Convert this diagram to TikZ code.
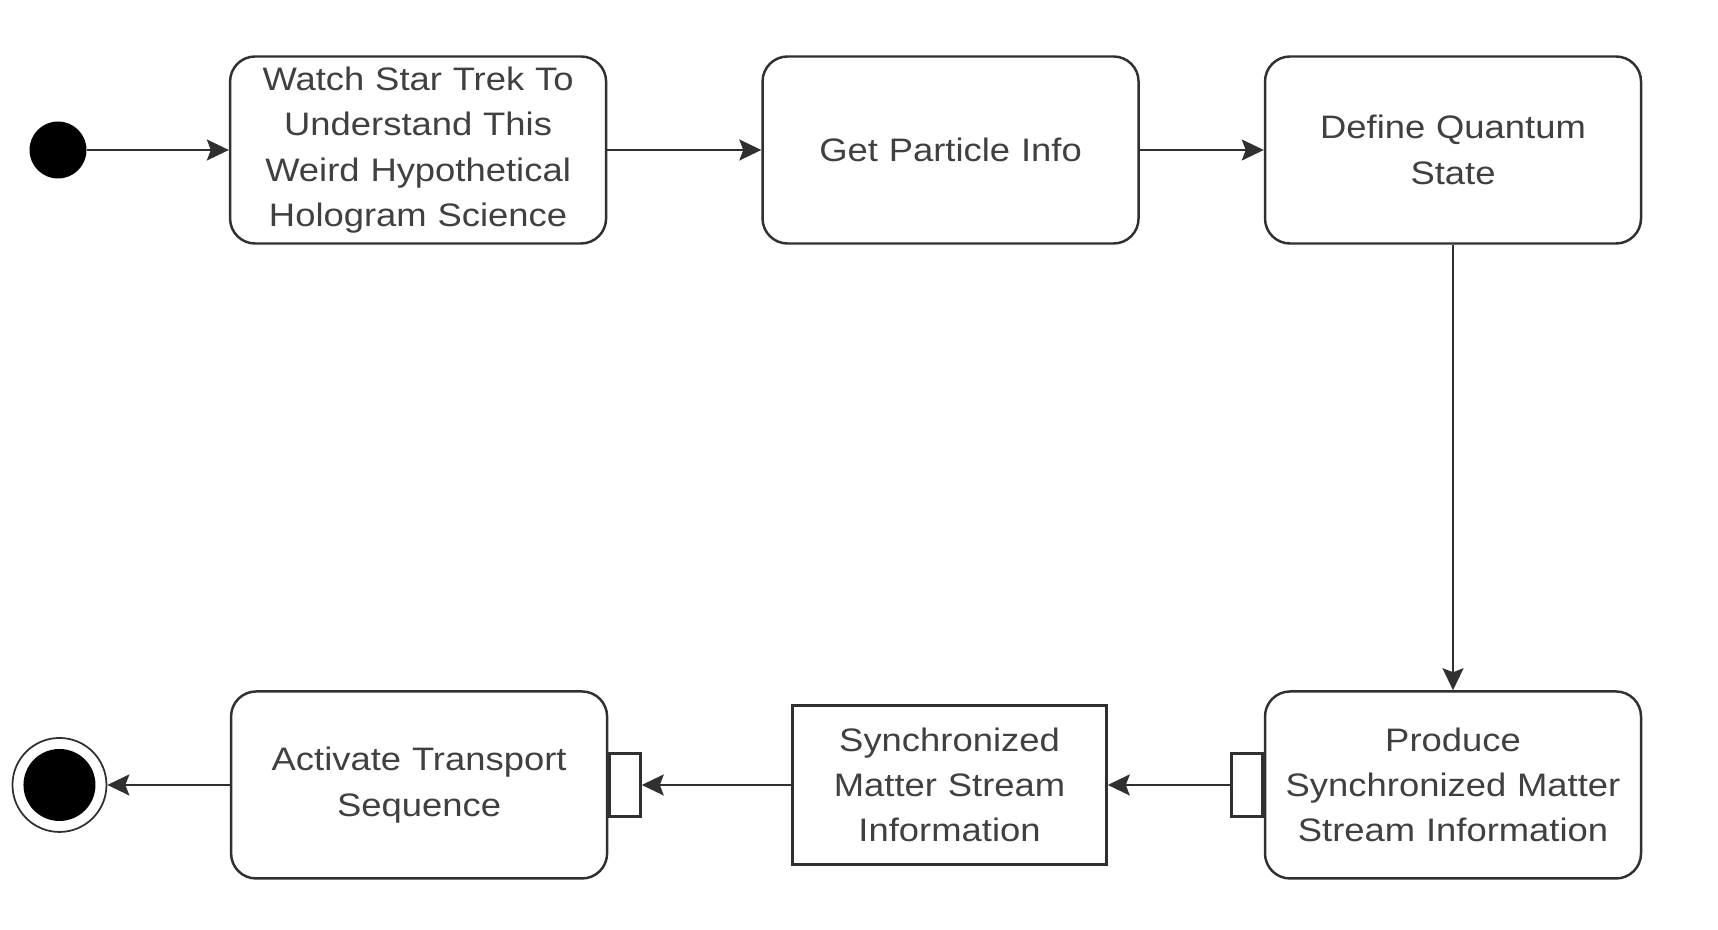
\documentclass[tikz,border=0pt]{standalone}
\usepackage{fontspec}
\newfontfamily\diagfont{Liberation Sans}[FakeStretch=1.12]
\usepackage{tikz}
\usetikzlibrary{positioning, arrows.meta}

\definecolor{linegray}{HTML}{303030}
\definecolor{textgray}{HTML}{404040}

\begin{document}
\begin{tikzpicture}
    % Define styles
    \tikzstyle{initial} = [circle, fill=black, minimum size=1.14cm, inner sep=0pt]
    \tikzstyle{final} = [circle, draw=linegray, line width=1pt, minimum size=1.88cm, inner sep=0pt]
    \tikzstyle{action} = [rectangle, rounded corners=0.5cm, minimum width=7.52cm, minimum height=3.74cm, align=center, text width=7.0cm, draw=linegray, line width=1.4pt, text=textgray, font=\diagfont\fontsize{18.5}{25.8}\selectfont]
    \tikzstyle{object} = [rectangle, minimum width=6.28cm, minimum height=3.18cm, align=center, text width=6.0cm, draw=linegray, line width=1.4pt, text=textgray, font=\diagfont\fontsize{18.5}{25.8}\selectfont]
    \tikzstyle{pinbox} = [rectangle, minimum width=0.62cm, minimum height=1.26cm, inner sep=0pt, draw=linegray, line width=1.4pt, fill=white]
    \tikzstyle{arrow} = [line width=1.2pt, draw=linegray, -{Stealth[length=0.44cm, width=0.42cm, inset=0.08cm]}]

    \useasboundingbox (0,0) rectangle (34.36,-18.6);

    % Nodes
    \node (start) [initial] at (1.16,-3.0) {};
    \node (watch) [action, right=2.84cm of start] {Watch Star Trek To\\Understand This\\Weird Hypothetical\\Hologram Science};
    \node (particle) [action, right=3.08cm of watch] {Get Particle Info};
    \node (quantum) [action, right=2.48cm of particle] {Define Quantum\\State};
    \node (produce) [action, below=8.91cm of quantum] {Produce\\Synchronized Matter\\Stream Information};
    \node (syncinfo) [object, left=3.12cm of produce] {Synchronized\\Matter Stream\\Information};
    \node (activate) [action, left=3.66cm of syncinfo] {Activate Transport\\Sequence};
    \node (end) [final, left=2.45cm of activate] {};
    \fill[black] (end) circle (0.72cm);

    % Pins
    \node (pinin) [pinbox, anchor=east] at (produce.west) {};
    \node (pinout) [pinbox, anchor=west] at (activate.east) {};

    % Arrows
    \draw [arrow] (start) -- (watch);
    \draw [arrow] (watch) -- (particle);
    \draw [arrow] (particle) -- (quantum);
    \draw [arrow] (quantum) -- (produce);
    \draw [arrow] (pinin) -- (syncinfo);
    \draw [arrow] (syncinfo) -- (pinout);
    \draw [arrow] (activate) -- (end);
\end{tikzpicture}
\end{document}
